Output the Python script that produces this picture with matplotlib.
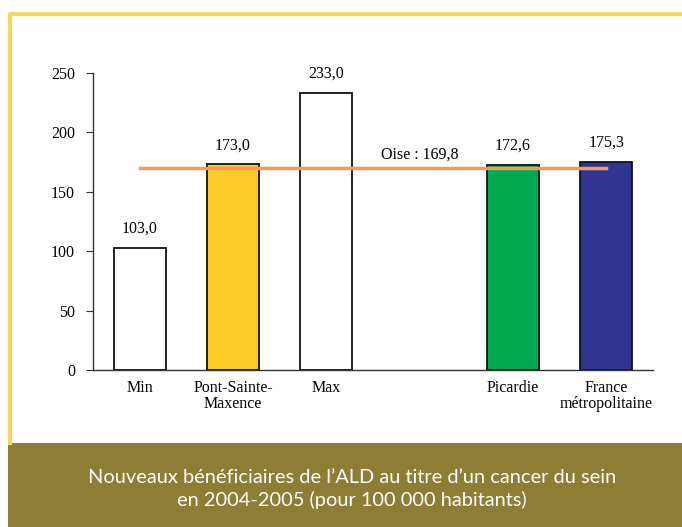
import matplotlib.pyplot as plt
from matplotlib.lines import Line2D
from matplotlib.patches import Rectangle

categories = ["Min", "Pont-Sainte-\nMaxence", "Max", "", "Picardie", "France\nmétropolitaine"]
values = [103.0, 173.0, 233.0, None, 172.6, 175.3]
colors = ["white", "#FBCB27", "white", None, "#00A84F", "#313591"]
oise_value = 169.8
oise_label = "Oise : 169,8"
yticks = [0, 50, 100, 150, 200, 250]
title = "Nouveaux bénéficiaires de l\u2019ALD au titre d\u2019un cancer du sein\nen 2004-2005 (pour 100 000 habitants)"

plt.rcParams['font.family'] = ['Liberation Serif', 'DejaVu Serif']

fig = plt.figure(figsize=(6.82, 5.27), dpi=100)
ax = fig.add_axes([93 / 682, 157 / 527, 560 / 682, 297 / 527])

for i, (v, c) in enumerate(zip(values, colors)):
    if v is None:
        continue
    ax.bar(i, v, width=0.56, color=c, edgecolor="#111111", linewidth=1.3, zorder=2)
    ax.annotate(f"{v:.1f}".replace(".", ","), (i, v), xytext=(0, 8), textcoords="offset points",
                ha="center", va="bottom", fontsize=11.5)

ax.plot([0, 5], [oise_value, oise_value], color="#F5995A", linewidth=2.5, zorder=3)
ax.text(3, oise_value + 5, oise_label, ha="center", va="bottom", fontsize=11.5)

ax.set_xlim(-0.5, 5.5)
ax.set_ylim(0, 250)
ax.set_yticks(yticks)
ax.set_xticks(range(len(categories)))
ax.set_xticklabels(categories, fontsize=11.5, linespacing=1.05)
ax.tick_params(axis="x", length=0, pad=7)
ax.tick_params(axis="y", direction="out", length=5, labelsize=11.5, pad=8, color="#333333")
for side in ["top", "right"]:
    ax.spines[side].set_visible(False)
for side in ["left", "bottom"]:
    ax.spines[side].set_color("#333333")
    ax.spines[side].set_linewidth(1)

# yellow frame and olive caption band
fig.add_artist(Line2D([9.5 / 682, 9.5 / 682, 1], [1 - 443 / 527, 1 - 14 / 527, 1 - 14 / 527],
                      transform=fig.transFigure, color="#F9D65A", linewidth=3))
fig.add_artist(Rectangle((8 / 682, 0), 674 / 682, 84 / 527, transform=fig.transFigure,
                         facecolor="#8E7D34", edgecolor="none"))
fig.text(352 / 682, 1 - 489 / 527, title, ha="center", va="center", color="white",
         fontsize=14.4, family=["Lato", "DejaVu Sans"], linespacing=1.3)

fig.savefig("out.png", dpi=100)
